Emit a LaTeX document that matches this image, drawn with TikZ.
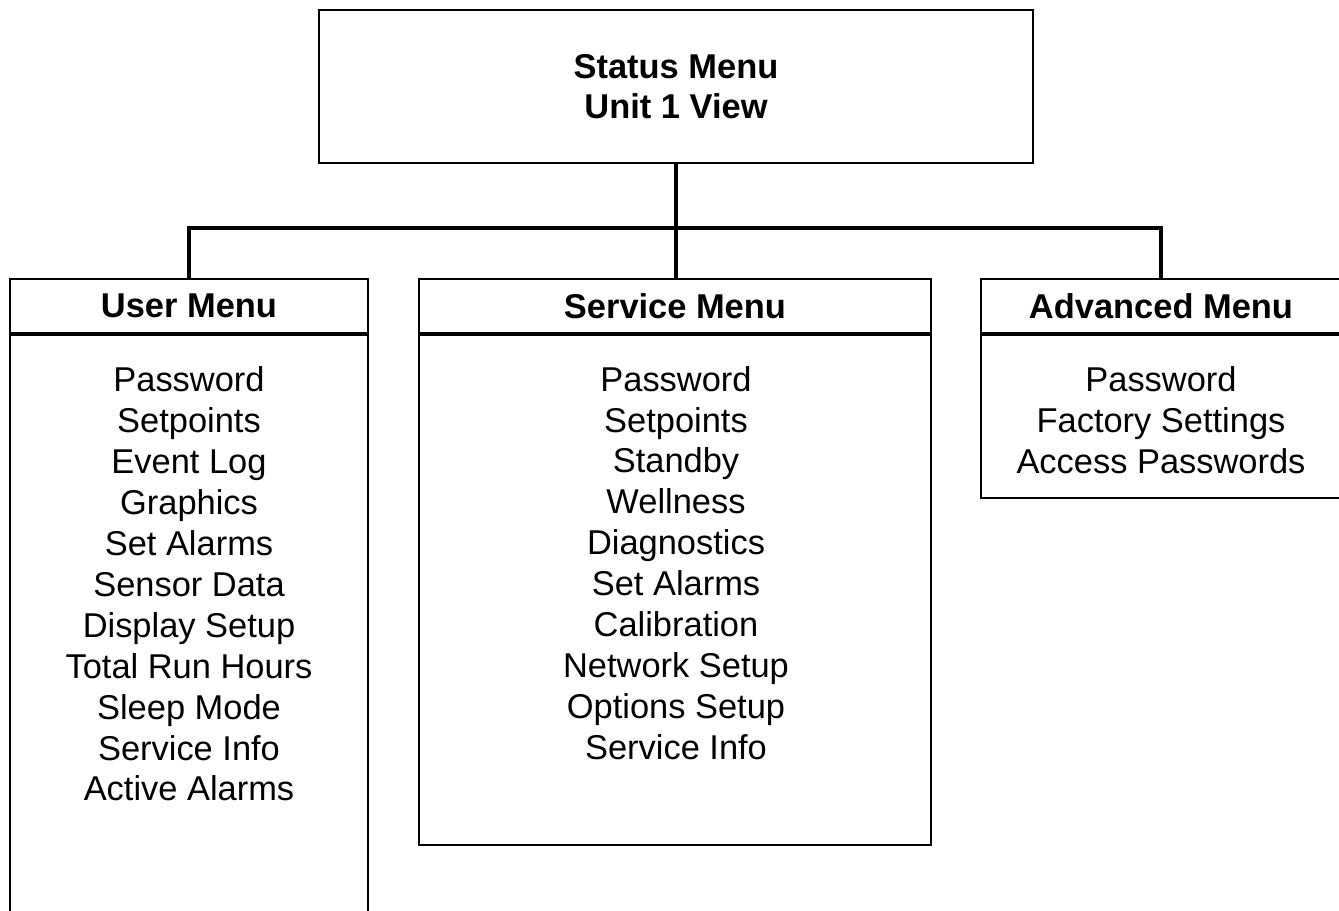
\documentclass[tikz,border=0pt]{standalone}
\usepackage{fontspec}
\setmainfont{Liberation Sans}
\usepackage{tikz}

\tikzset{
  box/.style={draw,line width=1pt,inner sep=0pt},
  head/.style={box,minimum height=1.08cm,font=\fontsize{19.6}{23.3}\bfseries},
  body/.style={box},
  items/.style={align=center,inner sep=0pt,font=\fontsize{19.6}{23.3}\selectfont},
  link/.style={line width=2pt}
}

\begin{document}
\begin{tikzpicture}[x=0.02cm,y=-0.02cm]
  \useasboundingbox (0,0) rectangle (1339,911);
  \clip (0,0) rectangle (1339,911);

  \node (status) at (676,86.5) [box,minimum width=14.28cm,minimum height=3.06cm,
    align=center,font=\fontsize{19.6}{22.8}\bfseries] {Status Menu\\Unit 1 View};

  \node (user) at (189,306) [head,minimum width=7.16cm] {User Menu};
  \node (userbody) at (user.south) [body,anchor=north,minimum width=7.16cm,minimum height=12.2cm] {};
  \node (userlist) at (189,584) [items] {Password\\Setpoints\\Event Log\\Graphics\\Set Alarms\\Sensor Data\\Display Setup\\Total Run Hours\\Sleep Mode\\Service Info\\Active Alarms};

  \node (service) at (675,306) [head,minimum width=10.24cm] {Service Menu};
  \node (servicebody) at (service.south) [body,anchor=north,minimum width=10.24cm,minimum height=10.2cm] {};
  \node (servicelist) at (676,563) [items] {Password\\Setpoints\\Standby\\Wellness\\Diagnostics\\Set Alarms\\Calibration\\Network Setup\\Options Setup\\Service Info};

  \node (advanced) at (1161,306) [head,minimum width=7.2cm] {Advanced Menu};
  \node (advancedbody) at (advanced.south) [body,anchor=north,minimum width=7.2cm,minimum height=3.26cm] {};
  \node (advancedlist) at (1161,420) [items] {Password\\Factory Settings\\Access Passwords};

  \coordinate (bar) at (676,228);
  \draw[link] (status.south) -- (status.south |- user.north);
  \draw[link] (user.north) -- (user.north |- bar) -| (advanced.north);

\end{tikzpicture}
\end{document}
